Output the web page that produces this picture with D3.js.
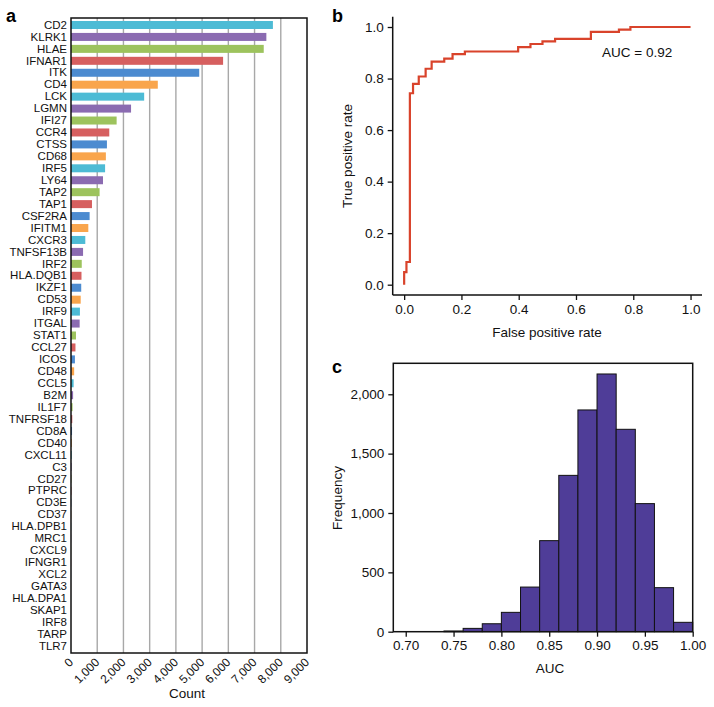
<!DOCTYPE html>
<html>
<head>
<meta charset="utf-8">
<script src="https://cdn.jsdelivr.net/npm/d3@7"></script>
<style>
  body { margin: 0; background: #fff; }
  svg { font-family: "Liberation Sans", Arial, sans-serif; }
</style>
</head>
<body>
<svg id="fig" width="714" height="707"></svg>
<script>
// panel a: gene counts
const genes = ["CD2", "KLRK1", "HLAE", "IFNAR1", "ITK", "CD4", "LCK", "LGMN", "IFI27", "CCR4",
  "CTSS", "CD68", "IRF5", "LY64", "TAP2", "TAP1", "CSF2RA", "IFITM1", "CXCR3", "TNFSF13B",
  "IRF2", "HLA.DQB1", "IKZF1", "CD53", "IRF9", "ITGAL", "STAT1", "CCL27", "ICOS", "CD48",
  "CCL5", "B2M", "IL1F7", "TNFRSF18", "CD8A", "CD40", "CXCL11", "C3", "CD27", "PTPRC",
  "CD3E", "CD37", "HLA.DPB1", "MRC1", "CXCL9", "IFNGR1", "XCL2", "GATA3", "HLA.DPA1", "SKAP1",
  "IRF8", "TARP", "TLR7"];
const counts = [7700, 7450, 7350, 5800, 4890, 3310, 2790, 2290, 1740, 1460,
  1370, 1330, 1300, 1220, 1090, 800, 710, 660, 545, 460,
  410, 400, 390, 370, 340, 330, 190, 170, 150, 120,
  100, 80, 60, 50, 40, 30, 25, 20, 15, 15,
  10, 8, 6, 5, 4, 3, 3, 2, 2, 2,
  1, 1, 1];
const barColors = ["#4dbbd5", "#8b6bb1", "#9dc35d", "#d65f5f", "#4c8bd0", "#f9a54c"];
const countTicks = [0, 1000, 2000, 3000, 4000, 5000, 6000, 7000, 8000, 9000];

// panel b: ROC curve corners
const fpr = [0, 0, 0.008, 0.02, 0.031, 0.051, 0.075, 0.096, 0.14, 0.169, 0.212, 0.398, 0.441, 0.483, 0.527, 0.652, 0.75, 0.79, 1.0];
const tpr = [0, 0.049, 0.088, 0.743, 0.779, 0.808, 0.838, 0.866, 0.877, 0.895, 0.905, 0.922, 0.934, 0.944, 0.954, 0.981, 0.99, 1.0, 1.0];
const rateTicks = [0, 0.2, 0.4, 0.6, 0.8, 1.0];

// panel c: AUC histogram
const binStart = [0.74, 0.76, 0.78, 0.80, 0.82, 0.84, 0.86, 0.88, 0.90, 0.92, 0.94, 0.96, 0.98];
const binFreq = [6, 28, 67, 163, 376, 767, 1317, 1868, 2171, 1705, 1079, 371, 79];
const aucTicks = [0.70, 0.75, 0.80, 0.85, 0.90, 0.95, 1.00];
const freqTicks = [0, 500, 1000, 1500, 2000];

const svg = d3.select('#fig');
const comma = d3.format(',');

// ---------- a ----------
const a = { left: 71, right: 307, top: 18, bottom: 653 };
const xa = d3.scaleLinear().domain([0, 9000]).range([a.left, a.right]);
const ya = d3.scaleBand().domain(genes).range([a.top, a.bottom])
  .paddingInner(0.33).paddingOuter(0.25);

svg.append('g').selectAll('line')
  .data(countTicks.slice(1, -1))
  .join('line')
    .attr('x1', d => xa(d)).attr('x2', d => xa(d))
    .attr('y1', a.top).attr('y2', a.bottom)
    .attr('stroke', '#a8a8a8').attr('stroke-width', 1.4);

svg.append('g').selectAll('rect')
  .data(genes)
  .join('rect')
    .attr('x', xa(0))
    .attr('y', d => ya(d))
    .attr('width', (d, i) => xa(counts[i]) - xa(0))
    .attr('height', ya.bandwidth())
    .attr('fill', (d, i) => barColors[i % 6]);

svg.append('rect')
  .attr('x', a.left).attr('y', a.top)
  .attr('width', a.right - a.left).attr('height', a.bottom - a.top)
  .attr('fill', 'none').attr('stroke', '#111').attr('stroke-width', 1.5);

const yAxisA = svg.append('g')
  .attr('transform', `translate(${a.left},0)`)
  .call(d3.axisLeft(ya).tickSize(0).tickPadding(4));
yAxisA.select('.domain').remove();
yAxisA.selectAll('text').attr('font-size', 11.5).attr('fill', '#111')
  .attr('font-family', '"Liberation Sans", Arial, sans-serif');

svg.append('g').selectAll('text')
  .data(countTicks)
  .join('text')
    .attr('transform', d => `translate(${xa(d) + 3},${a.bottom + 10}) rotate(-45)`)
    .attr('text-anchor', 'end')
    .attr('font-size', 12)
    .attr('fill', '#111')
    .text(d => comma(d));

svg.append('text').attr('x', 187).attr('y', 698)
  .attr('text-anchor', 'middle').attr('font-size', 13.5).attr('fill', '#111')
  .text('Count');

svg.append('text').attr('x', 6).attr('y', 22)
  .attr('font-size', 18).attr('font-weight', 'bold').text('a');

// ---------- b ----------
const b = { left: 392.7, right: 702, top: 16.7, bottom: 295 };
const xb = d3.scaleLinear().domain([-0.04, 1.04]).range([b.left, b.right]);
const yb = d3.scaleLinear().domain([-0.04, 1.04]).range([b.bottom, b.top]);

const xAxisB = svg.append('g').attr('transform', `translate(0,${b.bottom})`)
  .call(d3.axisBottom(xb).tickValues(rateTicks).tickFormat(d3.format('.1f')).tickSize(5).tickPadding(4).tickSizeOuter(0));
const yAxisB = svg.append('g').attr('transform', `translate(${b.left},0)`)
  .call(d3.axisLeft(yb).tickValues(rateTicks).tickFormat(d3.format('.1f')).tickSize(5).tickPadding(4).tickSizeOuter(0));
[xAxisB, yAxisB].forEach(g => {
  g.select('.domain').attr('stroke', '#111').attr('stroke-width', 1.5);
  g.selectAll('.tick line').attr('stroke', '#111').attr('stroke-width', 1.3);
  g.selectAll('text').attr('font-size', 13.5).attr('fill', '#111')
    .attr('font-family', '"Liberation Sans", Arial, sans-serif');
});
xAxisB.select('.domain').attr('d', `M${b.left},0H${b.right}`);
yAxisB.select('.domain').attr('d', `M0,${b.top}V${b.bottom}`);

const roc = fpr.map((d, i) => [d, tpr[i]]);
svg.append('path')
  .datum(roc)
  .attr('d', d3.line().x(d => xb(d[0])).y(d => yb(d[1])).curve(d3.curveStepAfter))
  .attr('fill', 'none').attr('stroke', '#d9432b').attr('stroke-width', 2.2);

svg.append('text').attr('x', 602).attr('y', 56.5)
  .attr('font-size', 13.5).attr('fill', '#111').text('AUC = 0.92');

svg.append('text').attr('x', 547).attr('y', 337)
  .attr('text-anchor', 'middle').attr('font-size', 13.5).attr('fill', '#111')
  .text('False positive rate');
svg.append('text')
  .attr('transform', `translate(352,156) rotate(-90)`)
  .attr('text-anchor', 'middle').attr('font-size', 13.5).attr('fill', '#111')
  .text('True positive rate');

svg.append('text').attr('x', 332).attr('y', 21.5)
  .attr('font-size', 18).attr('font-weight', 'bold').text('b');

// ---------- c ----------
const c = { left: 393.3, right: 692.7, top: 363.3, bottom: 631.7 };
const xc = d3.scaleLinear().domain([0.687, 1.0]).range([c.left, c.right]);
const yc = d3.scaleLinear().domain([0, 2261]).range([c.bottom, c.top]);

svg.append('g').selectAll('rect')
  .data(binStart)
  .join('rect')
    .attr('x', d => xc(d))
    .attr('y', (d, i) => yc(binFreq[i]))
    .attr('width', d => xc(d + 0.02) - xc(d))
    .attr('height', (d, i) => yc(0) - yc(binFreq[i]))
    .attr('fill', '#4f3d98').attr('stroke', '#111').attr('stroke-width', 1);

svg.append('rect')
  .attr('x', c.left).attr('y', c.top)
  .attr('width', c.right - c.left).attr('height', c.bottom - c.top)
  .attr('fill', 'none').attr('stroke', '#111').attr('stroke-width', 1.5);

const xAxisC = svg.append('g').attr('transform', `translate(0,${c.bottom})`)
  .call(d3.axisBottom(xc).tickValues(aucTicks).tickFormat(d3.format('.2f')).tickSize(5).tickPadding(4));
const yAxisC = svg.append('g').attr('transform', `translate(${c.left},0)`)
  .call(d3.axisLeft(yc).tickValues(freqTicks).tickFormat(comma).tickSize(5).tickPadding(4));
[xAxisC, yAxisC].forEach(g => {
  g.select('.domain').remove();
  g.selectAll('.tick line').attr('stroke', '#111').attr('stroke-width', 1.3);
  g.selectAll('text').attr('font-size', 13.5).attr('fill', '#111')
    .attr('font-family', '"Liberation Sans", Arial, sans-serif');
});

svg.append('text').attr('x', 550).attr('y', 673)
  .attr('text-anchor', 'middle').attr('font-size', 13.5).attr('fill', '#111')
  .text('AUC');
svg.append('text')
  .attr('transform', `translate(342,498) rotate(-90)`)
  .attr('text-anchor', 'middle').attr('font-size', 13.5).attr('fill', '#111')
  .text('Frequency');

svg.append('text').attr('x', 332).attr('y', 373)
  .attr('font-size', 18).attr('font-weight', 'bold').text('c');
</script>
</body>
</html>
